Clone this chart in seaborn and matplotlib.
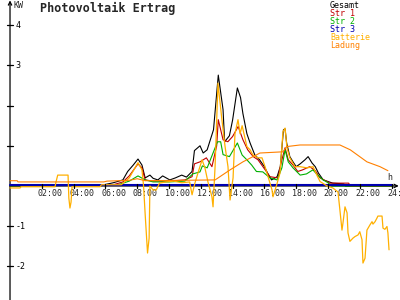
import numpy as np
import pandas as pd
import matplotlib
matplotlib.use("Agg")
import matplotlib.pyplot as plt
import seaborn as sns

# ---------------- data (hours, kW) ----------------
gesamt_t = [0, 5.8, 6.5, 7.1, 7.4, 7.75, 8.05, 8.3, 8.5, 8.8, 9.0, 9.3, 9.6, 10.05, 10.4, 10.8, 11.1, 11.45,
            11.6, 11.95, 12.15, 12.4, 12.6, 12.8, 13.1, 13.4, 13.5, 13.8, 14.0, 14.3, 14.5, 14.65, 14.9, 15.1,
            15.4, 15.7, 16.0, 16.2, 16.45, 16.8, 17.0, 17.2, 17.3, 17.4, 17.6, 17.8, 18.0, 18.25, 18.55, 18.75,
            19.0, 19.2, 19.4, 19.7, 20.0, 20.3, 21.0, 21.1, 24]
gesamt_v = [0, 0.02, 0.08, 0.15, 0.36, 0.52, 0.67, 0.52, 0.2, 0.27, 0.19, 0.15, 0.25, 0.15, 0.2, 0.27, 0.22, 0.36,
            0.88, 1.0, 0.82, 0.9, 1.15, 1.4, 2.76, 1.9, 1.1, 1.25, 1.64, 2.44, 2.2, 1.8, 1.3, 1.07,
            0.77, 0.65, 0.48, 0.32, 0.15, 0.23, 0.48, 1.4, 1.42, 1.07, 0.73, 0.6, 0.48, 0.55, 0.65, 0.73,
            0.57, 0.48, 0.32, 0.15, 0.11, 0.07, 0.05, 0, 0]

str1_t = [0, 6.5, 7.1, 7.5, 8.05, 8.3, 8.5, 9.0, 10.0, 11.0, 11.45, 11.6, 11.95, 12.35, 12.7, 13.0, 13.1, 13.4,
          13.7, 14.0, 14.35, 14.65, 14.95, 15.3, 15.6, 16.05, 16.35, 16.85, 17.1, 17.3, 17.5, 17.8, 18.1, 18.4,
          18.85, 19.2, 19.5, 19.95, 20.1, 21.3, 21.4, 24]
str1_v = [0, 0.03, 0.1, 0.25, 0.55, 0.45, 0.15, 0.12, 0.12, 0.15, 0.23, 0.55, 0.6, 0.7, 0.48, 1.0, 1.65, 1.15,
          1.1, 1.23, 1.48, 1.15, 0.9, 0.73, 0.65, 0.4, 0.23, 0.2, 0.65, 0.95, 0.65, 0.52, 0.36, 0.4,
          0.48, 0.38, 0.2, 0.11, 0.07, 0.07, 0, 0]

str2_t = [0, 6.8, 7.5, 8.05, 8.5, 9.0, 10.0, 11.0, 11.5, 11.95, 12.1, 12.4, 12.85, 13.05, 13.25, 13.4, 13.8,
          14.3, 14.6, 14.9, 15.2, 15.5, 15.9, 16.35, 16.8, 17.1, 17.3, 17.5, 17.8, 18.25, 18.65, 19.05, 19.35,
          19.7, 20.0, 20.2, 24]
str2_v = [0, 0.03, 0.12, 0.25, 0.15, 0.1, 0.1, 0.12, 0.3, 0.35, 0.5, 0.45, 0.9, 1.1, 1.1, 0.78, 0.73,
          1.07, 0.77, 0.65, 0.52, 0.36, 0.35, 0.2, 0.15, 0.45, 0.9, 0.6, 0.45, 0.27, 0.3, 0.4, 0.27,
          0.15, 0.08, 0, 0]

str3_t = [0, 24]
str3_v = [0.02, 0.02]

batt_t = [0, 0.63, 0.7, 2.83, 2.9, 3.0, 3.65, 3.7, 3.77, 3.84, 3.9, 5.66, 5.75, 7.0, 7.5, 8.05, 8.3, 8.4, 8.5,
          8.6, 8.65, 8.75, 8.8, 9.0, 9.2, 9.4, 9.8, 10.3, 10.8, 11.3, 11.45, 11.63, 11.82, 12.08, 12.26, 12.45,
          12.7, 12.77, 12.9, 13.08, 13.33, 13.52, 13.71, 13.84, 14.03, 14.15, 14.34, 14.47, 14.6, 14.9, 15.1,
          15.28, 15.6, 15.85, 16.04, 16.23, 16.48, 16.54, 16.79, 16.98, 17.17, 17.3, 17.42, 17.6, 17.92, 18.24,
          18.68, 19.06, 19.3, 19.5, 19.94, 20.3, 20.63, 20.75, 20.88, 20.94, 21.07, 21.2, 21.26, 21.38, 21.57,
          21.7, 21.89, 22.0, 22.14, 22.2, 22.33, 22.45, 22.64, 22.77, 22.83, 22.96, 23.08, 23.14, 23.4, 23.46,
          23.58, 23.71, 23.77, 23.84]
batt_v = [-0.05, -0.05, -0.02, -0.02, 0.11, 0.27, 0.27, -0.3, -0.55, -0.4, -0.02, -0.02, 0.03, 0.03, 0.2, 0.58,
          0.4, 0.0, -0.7, -1.35, -1.67, -1.3, 0.0, -0.1, -0.1, 0.07, 0.1, 0.12, 0.08, 0.1, -0.22, 0.07, 0.32,
          0.65, 0.45, 0.1, -0.27, -0.52, 0.5, 2.56, 1.64, 1.0, 0.48, -0.35, 0.2, 1.3, 1.65, 1.3, 1.5, 0.98,
          0.9, 0.77, 0.7, 0.7, 0.48, 0.23, -0.1, -0.27, 0.05, 0.32, 1.35, 1.44, 0.95, 0.7, 0.48, 0.48,
          0.45, 0.48, 0.27, 0.11, 0.0, -0.05, -0.15, -0.6, -1.1, -0.93, -0.52, -0.67, -1.17, -1.38, -1.3,
          -1.26, -1.22, -1.14, -1.34, -1.92, -1.8, -1.1, -0.97, -0.89, -0.95, -0.89, -0.8, -0.75, -0.75, -1.05,
          -1.08, -1.01, -1.17, -1.59]

ladung_t = [0, 0.45, 0.5, 5.9, 6.1, 7.5, 8.0, 8.5, 12.9, 13.84, 14.65, 15.72, 17.17, 17.4, 18.24, 20.75,
            21.4, 22.45, 23.27, 23.77]
ladung_v = [0.13, 0.13, 0.1, 0.1, 0.12, 0.14, 0.18, 0.13, 0.15, 0.4, 0.6, 0.82, 0.85, 0.98, 1.02, 1.02,
            0.9, 0.6, 0.48, 0.38]

series_names = ["Gesamt", "Str 1", "Str 2", "Str 3", "Batterie", "Ladung"]
series_colors = ["#000000", "#C00000", "#00B000", "#0000B0", "#FFB000", "#FF8000"]
y_ticks = [4, 3, 2, 1, -1, -2]
y_ticklabels = ["4", "3", "2", "1", "-1", "-2"]
x_ticks = [2, 4, 6, 8, 10, 12, 14, 16, 18, 20, 22, 24]
x_ticklabels = ["02:00", "04:00", "06:00", "08:00", "10:00", "12:00", "14:00",
                "16:00", "18:00", "20:00", "22:00", "24:00"]

# ---------------- plot ----------------
sns.set_style("white")
plt.rcParams["font.family"] = ["DejaVu Sans Mono", "DejaVu Sans"]

fig = plt.figure(figsize=(4, 3), dpi=100)
ax = fig.add_axes([0, 0, 1, 1])
for s in ax.spines.values():
    s.set_visible(False)
ax.set_xlim(-0.63, 24.53)
ax.set_ylim(-2.84, 4.63)

# axes lines with arrows
ax.annotate("", xy=(0, 4.62), xytext=(0, -2.84),
            arrowprops=dict(arrowstyle="->", color="black", lw=0.9, mutation_scale=6, shrinkA=0, shrinkB=0))
ax.annotate("", xy=(24.45, 0), xytext=(0, 0),
            arrowprops=dict(arrowstyle="->", color="black", lw=0.9, mutation_scale=6, shrinkA=0, shrinkB=0))

data = [(gesamt_t, gesamt_v), (str1_t, str1_v), (str2_t, str2_v), (str3_t, str3_v),
        (batt_t, batt_v), (ladung_t, ladung_v)]
widths = [0.8, 0.8, 0.8, 1.5, 0.9, 0.8]
order = [5, 0, 1, 2, 4, 3]
for i in order:
    t, v = data[i]
    df = pd.DataFrame({"h": t, "kW": v})
    sns.lineplot(data=df, x="h", y="kW", ax=ax, color=series_colors[i], lw=widths[i],
                 estimator=None, sort=False, legend=False, zorder=3 + i)

ax.set_xlabel("")
ax.set_ylabel("")
ax.set_xticks([])
ax.set_yticks([])

# y ticks
for yv, lab in zip(y_ticks, y_ticklabels):
    ax.plot([-0.2, 0.2], [yv, yv], color="black", lw=0.9, zorder=10)
    if lab in ("4", "3", "-1", "-2"):
        ax.text(0.32, yv, lab, fontsize=6, va="center", ha="left", color="black")
ax.text(0.25, 4.5, "KW", fontsize=6, va="center", ha="left")

# x ticks
for xv, lab in zip(x_ticks, x_ticklabels):
    ax.plot([xv, xv], [-0.06, 0.06], color="black", lw=0.9, zorder=10)
    ax.text(xv - 0.27, -0.18, lab, fontsize=6, va="center", ha="left")
ax.text(23.75, 0.2, "h", fontsize=6, va="center", ha="left")

# title
fig.text(0.10, 0.972, "Photovoltaik Ertrag", fontsize=8.5, fontweight="bold", ha="left", va="center")

# legend as colored text
for k, (nm, col) in enumerate(zip(series_names, series_colors)):
    fig.text(0.825, 0.983 - k * 0.0268, nm, fontsize=6, color=col, ha="left", va="center")

fig.savefig("out.png", dpi=100, facecolor="white")
